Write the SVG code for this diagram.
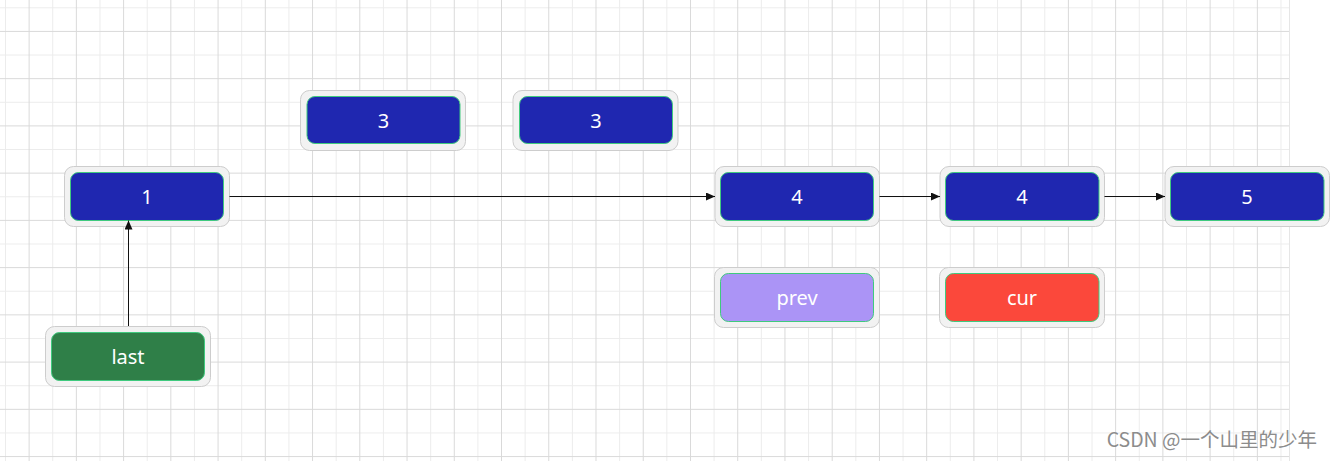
<svg xmlns="http://www.w3.org/2000/svg" width="1333" height="461" viewBox="0 0 1333 461">
<defs>
<pattern id="grid" patternUnits="userSpaceOnUse" x="5" y="7.3" width="47.24" height="47.24">
<path d="M0.5 0V47.24M0 0.5H47.24" stroke="#ececec" stroke-width="1" fill="none"/>
<path d="M24.12 0V47.24M0 24.12H47.24" stroke="#d9d9d9" stroke-width="1" fill="none"/>
</pattern>
<marker id="arr" viewBox="0 0 10 10" refX="10" refY="5" markerWidth="9" markerHeight="8" markerUnits="userSpaceOnUse" orient="auto" preserveAspectRatio="none">
<path d="M0 0L10 5L0 10Z" fill="#111"/>
</marker>
</defs>
<style>
.outer{fill:#f2f2f2;stroke:#cdcdcd;stroke-width:1}
.inner{stroke:#3fca7e;stroke-width:1}
.blue{fill:#1f27b0}
.green{fill:#2f7f48}
.purple{fill:#ab94f6}
.red{fill:#fb483b}
.lbl{font-family:"Noto Sans","Open Sans","Liberation Sans",sans-serif;font-size:20px;fill:#fff;text-anchor:middle}
.edge{stroke:#111;stroke-width:1;fill:none;marker-end:url(#arr)}
.wm{font-family:"Noto Sans CJK SC","Noto Sans","Liberation Sans",sans-serif;font-size:19.5px;fill:#8c8c8c;text-anchor:end}
</style>
<rect width="1333" height="461" fill="#fff"/>
<rect x="0" y="0" width="1290" height="461" fill="url(#grid)"/>
<line x1="1289.5" y1="0" x2="1289.5" y2="461" stroke="#e6e6e6"/>
<g id="n1">
<rect class="outer" x="64.5" y="166.5" width="165" height="60" rx="9"/>
<rect class="inner blue" x="70.5" y="172.5" width="153" height="48" rx="8"/>
<text class="lbl" x="147" y="204">1</text>
</g>
<g id="n3a">
<rect class="outer" x="300.5" y="90.5" width="165" height="60" rx="9"/>
<rect class="inner blue" x="307" y="96.5" width="153" height="47" rx="8"/>
<text class="lbl" x="383.5" y="128">3</text>
</g>
<g id="n3b">
<rect class="outer" x="513" y="90.5" width="165" height="60" rx="9"/>
<rect class="inner blue" x="519.5" y="96.5" width="153" height="47" rx="8"/>
<text class="lbl" x="596" y="128">3</text>
</g>
<g id="n4a">
<rect class="outer" x="715" y="166.5" width="164.5" height="60" rx="9"/>
<rect class="inner blue" x="720.5" y="172.5" width="153" height="48" rx="8"/>
<text class="lbl" x="797" y="204">4</text>
</g>
<g id="n4b">
<rect class="outer" x="940" y="166.5" width="164.5" height="60" rx="9"/>
<rect class="inner blue" x="945.5" y="172.5" width="153.5" height="48" rx="8"/>
<text class="lbl" x="1022" y="204">4</text>
</g>
<g id="n5">
<rect class="outer" x="1165" y="166.5" width="164.5" height="60" rx="9"/>
<rect class="inner blue" x="1170.5" y="172.5" width="153.5" height="48" rx="8"/>
<text class="lbl" x="1247" y="204">5</text>
</g>
<g id="prev">
<rect class="outer" x="714.5" y="267.5" width="165" height="60" rx="9"/>
<rect class="inner purple" x="720.5" y="273.5" width="153" height="48" rx="8"/>
<text class="lbl" x="797" y="305">prev</text>
</g>
<g id="cur">
<rect class="outer" x="939.5" y="267.5" width="165" height="60" rx="9"/>
<rect class="inner red" x="945.5" y="273.5" width="153.5" height="48" rx="8"/>
<text class="lbl" x="1022" y="305">cur</text>
</g>
<g id="last">
<rect class="outer" x="45.5" y="326.5" width="165" height="60" rx="9"/>
<rect class="inner green" x="51.5" y="332.5" width="153" height="48" rx="8"/>
<text class="lbl" x="128" y="364">last</text>
</g>
<g id="edges">
<line class="edge" x1="229.5" y1="196.5" x2="715" y2="196.5"/>
<line class="edge" x1="879.5" y1="196.5" x2="940" y2="196.5"/>
<line class="edge" x1="1104.5" y1="196.5" x2="1165" y2="196.5"/>
<line class="edge" x1="128.5" y1="326" x2="128.5" y2="220.5"/>
</g>
<text class="wm" x="1317" y="447">CSDN @一个山里的少年</text>
</svg>
